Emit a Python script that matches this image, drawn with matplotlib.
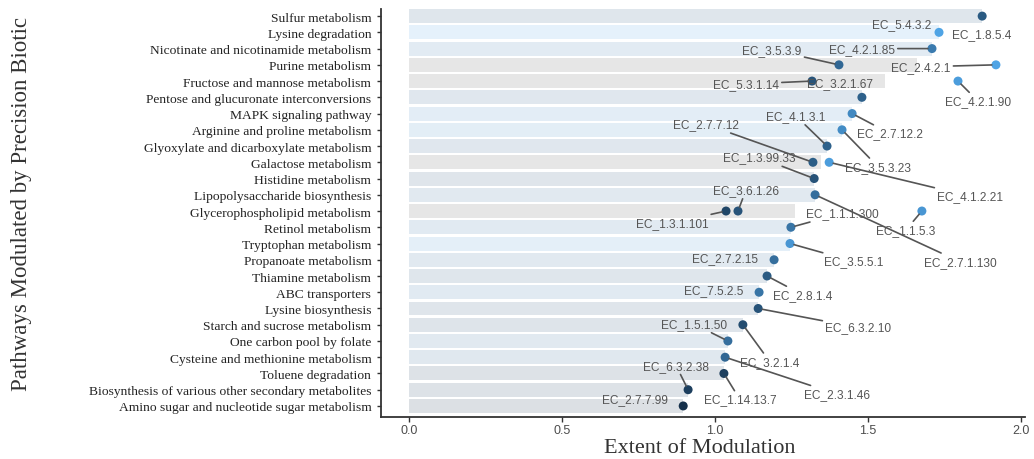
import numpy as np
import pandas as pd
import matplotlib
matplotlib.use("Agg")
import matplotlib.pyplot as plt
from matplotlib.colors import LinearSegmentedColormap, to_rgb

# Pathways, top to bottom
pathways = [
    "Sulfur metabolism",
    "Lysine degradation",
    "Nicotinate and nicotinamide metabolism",
    "Purine metabolism",
    "Fructose and mannose metabolism",
    "Pentose and glucuronate interconversions",
    "MAPK signaling pathway",
    "Arginine and proline metabolism",
    "Glyoxylate and dicarboxylate metabolism",
    "Galactose metabolism",
    "Histidine metabolism",
    "Lipopolysaccharide biosynthesis",
    "Glycerophospholipid metabolism",
    "Retinol metabolism",
    "Tryptophan metabolism",
    "Propanoate metabolism",
    "Thiamine metabolism",
    "ABC transporters",
    "Lysine biosynthesis",
    "Starch and sucrose metabolism",
    "One carbon pool by folate",
    "Cysteine and methionine metabolism",
    "Toluene degradation",
    "Biosynthesis of various other secondary metabolites",
    "Amino sugar and nucleotide sugar metabolism",
]

# enzymes: pathway index, name, extent of modulation, colour variable
ec_path = [0, 1, 2, 3, 3, 4, 4, 5, 6, 7, 8, 9, 9, 10, 11, 12, 12, 12,
           13, 14, 15, 16, 17, 18, 19, 20, 21, 22, 23, 24]
ec_name = ["EC_5.4.3.2", "EC_1.8.5.4", "EC_4.2.1.85", "EC_3.5.3.9", "EC_2.4.2.1",
           "EC_5.3.1.14", "EC_4.2.1.90", "EC_3.2.1.67", "EC_2.7.12.2", "EC_3.5.3.23",
           "EC_4.1.3.1", "EC_2.7.7.12", "EC_4.1.2.21", "EC_1.3.99.33", "EC_2.7.1.130",
           "EC_1.3.1.101", "EC_3.6.1.26", "EC_1.1.5.3", "EC_1.1.1.300", "EC_3.5.5.1",
           "EC_2.7.2.15", "EC_2.8.1.4", "EC_7.5.2.5", "EC_6.3.2.10", "EC_3.2.1.4",
           "EC_1.5.1.50", "EC_2.3.1.46", "EC_1.14.13.7", "EC_6.3.2.38", "EC_2.7.7.99"]
ec_value = [1.873, 1.732, 1.709, 1.405, 1.918, 1.317, 1.794, 1.480, 1.448, 1.415,
            1.366, 1.320, 1.373, 1.324, 1.327, 1.036, 1.075, 1.676, 1.248, 1.245,
            1.193, 1.170, 1.144, 1.141, 1.091, 1.042, 1.033, 1.029, 0.912, 0.896]
ec_shade = [0.35, 0.90, 0.60, 0.45, 0.90, 0.30, 0.85, 0.40, 0.70, 0.72,
            0.40, 0.38, 0.85, 0.30, 0.50, 0.20, 0.30, 0.80, 0.55, 0.80,
            0.50, 0.35, 0.55, 0.30, 0.25, 0.50, 0.45, 0.15, 0.15, 0.05]

# label placement (pixels from the point, +y = down) and whether a segment is drawn
label_dx = [-80, 43, -70, -67, -75, -66, 20, -22, 38, 36, -31, -107, 141, -55, 145,
            -54, 8, -16, 51, 64, -49, 36, -45, 100, 27, -34, 112, 16, -12, -48]
label_dy = [8, 2, 0, -15, 2, 3, 20, -14, 20, 37, -30, -38, 34, -21, 67,
            12, -21, 19, -14, 18, -2, 19, -2, 19, 37, -17, 37, 26, -24, -7]
label_seg = [0, 0, 1, 1, 1, 1, 1, 0, 1, 1, 1, 1, 1, 1, 1,
             1, 1, 1, 1, 1, 0, 1, 0, 1, 1, 1, 1, 1, 1, 0]

df = pd.DataFrame({"path": ec_path, "name": ec_name, "value": ec_value, "shade": ec_shade})
means = df.groupby("path")["value"].mean().reindex(range(len(pathways)))
counts = df.groupby("path")["value"].count().reindex(range(len(pathways)))
shade_mean = df.groupby("path")["shade"].mean().reindex(range(len(pathways)))

cmap = LinearSegmentedColormap.from_list("gg", ["#132B43", "#56B1F7"])

def bar_colour(i):
    if counts[i] > 1:
        return "#e6e6e6"
    c = np.array(to_rgb(cmap(shade_mean[i])))
    return tuple(0.85 * 1 + 0.15 * c)

dpi = 100
fig = plt.figure(figsize=(10.34, 4.6), dpi=dpi)
ax = fig.add_axes([0.3685, 0.0913, 0.6228, 0.8867])

ypos = np.arange(len(pathways))
ax.barh(ypos, means.values, height=0.86, color=[bar_colour(i) for i in ypos], zorder=1)

ax.scatter(df["value"], df["path"], c=df["shade"], cmap=cmap, vmin=0, vmax=1,
           s=42, zorder=3, linewidths=0)

pt = 72.0 / dpi
for k in range(len(df)):
    arrow = None
    if label_seg[k]:
        arrow = dict(arrowstyle="-", color="#555555", lw=1.2, shrinkA=0, shrinkB=3)
    ax.annotate(ec_name[k], (ec_value[k], ec_path[k]),
                xytext=(label_dx[k] * pt, -label_dy[k] * pt), textcoords="offset points",
                ha="center", va="center", fontsize=8.6, color="#555555",
                family="Liberation Sans", arrowprops=arrow, zorder=4)

ax.set_xlim(-0.0915, 2.013)
ax.set_ylim(24.68, -0.43)
ax.set_xticks([0.0, 0.5, 1.0, 1.5, 2.0])
ax.set_xticklabels(["0.0", "0.5", "1.0", "1.5", "2.0"], family="Liberation Sans",
                   fontsize=9, color="#4d4d4d")
ax.set_yticks(ypos)
ax.set_yticklabels(pathways, family="Liberation Serif", fontsize=9.7, color="#222222")
ax.tick_params(axis="x", length=3.5, width=1, color="#333333", pad=1.5)
ax.tick_params(axis="y", length=3, width=1, color="#333333", pad=4)
for s in ["top", "right"]:
    ax.spines[s].set_visible(False)
for s in ["left", "bottom"]:
    ax.spines[s].set_color("#333333")
    ax.spines[s].set_linewidth(1.3)

fig.text(0.677, 1 - 449 / 460, "Extent of Modulation", family="Liberation Serif",
         fontsize=16, color="#333333", ha="center", va="center")
fig.text(0.021, 1 - 204 / 460, "Pathways Modulated by Precision Biotic", rotation=90,
         family="Liberation Serif", fontsize=16.5, color="#333333", ha="center", va="center")

fig.savefig("out.png", dpi=dpi)
